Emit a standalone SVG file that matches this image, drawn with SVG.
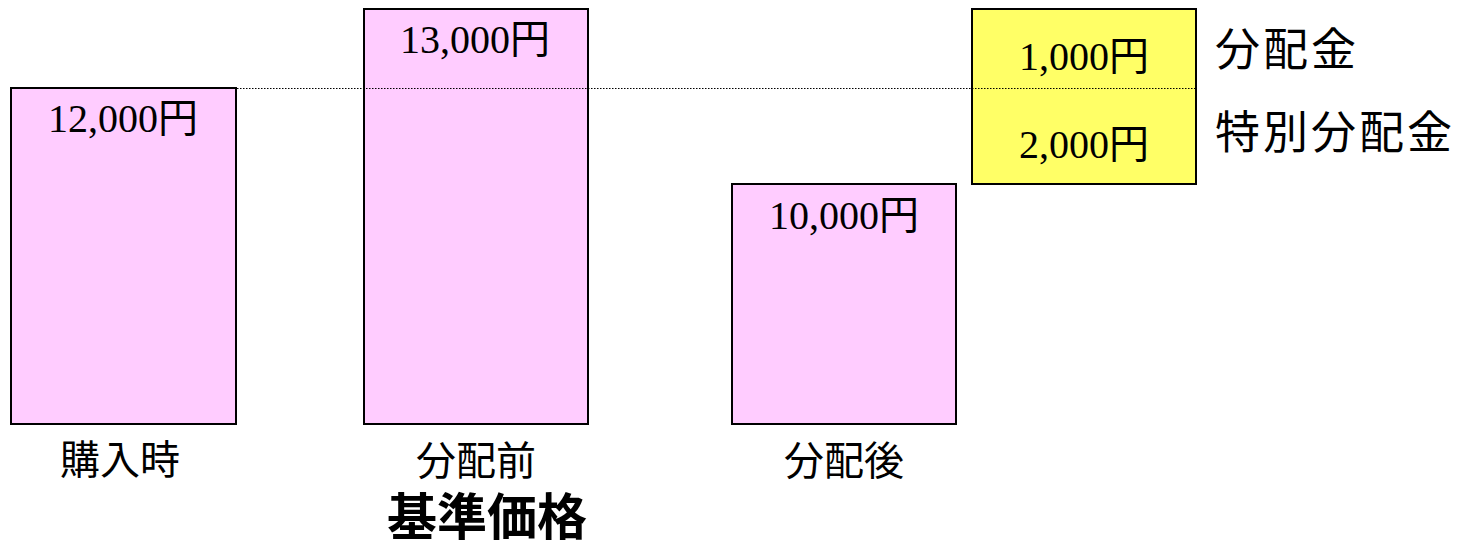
<svg xmlns="http://www.w3.org/2000/svg" width="1470" height="546" viewBox="0 0 1470 546">
<style>
.bar{fill:#FFCCFF;stroke:#000;stroke-width:2}
.ybar{fill:#FFFF66;stroke:#000;stroke-width:2}
.num{font-family:"Liberation Serif","Noto Sans CJK JP",serif;font-size:40px;fill:#000;text-anchor:middle}
.lbl{font-family:"Noto Sans CJK JP",sans-serif;font-size:40px;fill:#000;text-anchor:middle}
.side{font-family:"Noto Sans CJK JP",sans-serif;font-size:45px;fill:#000;letter-spacing:3px}
.title{font-family:"Noto Sans CJK JP",sans-serif;font-size:50px;font-weight:bold;fill:#000;text-anchor:middle}
.dot{stroke:#000;stroke-width:1.2;stroke-dasharray:1.5,1.5;fill:none}
</style>
<rect width="1470" height="546" fill="#fff"/>
<g id="purchase">
<rect class="bar" x="11" y="88" width="225" height="336"/>
<text class="num" x="123" y="132">12,000円</text>
<text class="lbl" x="120" y="474">購入時</text>
</g>
<g id="before">
<rect class="bar" x="364" y="9" width="224" height="415"/>
<text class="num" x="475" y="53">13,000円</text>
<text class="lbl" x="476" y="475">分配前</text>
</g>
<g id="after">
<rect class="bar" x="732" y="184" width="224" height="240"/>
<text class="num" x="844" y="229">10,000円</text>
<text class="lbl" x="844" y="475">分配後</text>
</g>
<g id="distribution">
<rect class="ybar" x="972" y="9" width="224" height="175"/>
<text class="num" x="1084" y="70">1,000円</text>
<text class="num" x="1084" y="158">2,000円</text>
</g>
<g id="labels">
<text class="side" x="1215" y="66">分配金</text>
<text class="side" x="1215" y="149">特別分配金</text>
<text class="title" x="487" y="535">基準価格</text>
</g>
<g id="connectors">
<line class="dot" x1="237" y1="88.5" x2="1196" y2="88.5"/>
</g>
</svg>
